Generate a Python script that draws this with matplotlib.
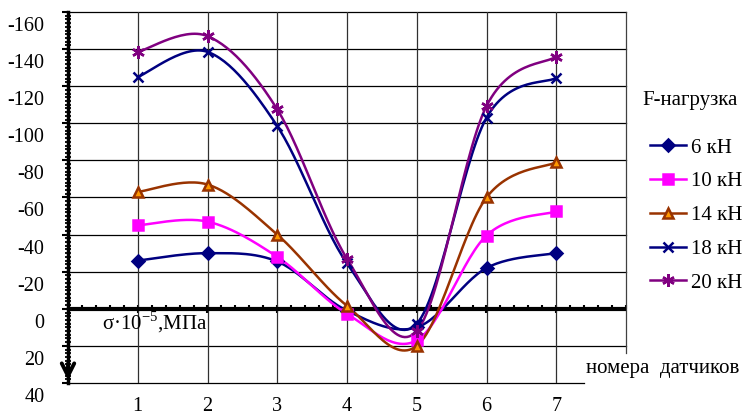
import numpy as np
import matplotlib
matplotlib.use("Agg")
import matplotlib.pyplot as plt
from matplotlib.transforms import ScaledTranslation
from matplotlib.ticker import MultipleLocator

plt.rcParams['font.family'] = ['Liberation Serif', 'DejaVu Serif']
plt.rcParams['mathtext.fontset'] = 'custom'
plt.rcParams['mathtext.rm'] = 'Liberation Serif'

sensors = [1, 2, 3, 4, 5, 6, 7]
s6 = [-26, -30, -25.5, 1, 10, -22, -30]
s10 = [-45, -47, -28, 2.7, 17, -39.5, -52.5]
s14 = [-63, -67, -40, -1.6, 20, -60, -79]
s18 = [-125, -138.5, -98.5, -24.5, 8, -103, -124.5]
s20 = [-138.5, -147, -107.5, -27, 12, -109.3, -136]
labels = ['6 кН', '10 кН', '14 кН', '18 кН', '20 кН']
yticks = list(range(-160, 41, 20))


def smooth(x, y, n=30):
    x = np.asarray(x, float); y = np.asarray(y, float)
    px = np.concatenate([[x[0]], x, [x[-1]]])
    py = np.concatenate([[y[0]], y, [y[-1]]])
    xs, ys = [], []
    t = np.linspace(0, 1, n)
    for i in range(1, len(px) - 2):
        p0, p1, p2, p3 = [np.array([px[j], py[j]]) for j in (i - 1, i, i + 1, i + 2)]
        c1 = p1 + (p2 - p0) / 6.0
        c2 = p2 - (p3 - p1) / 6.0
        pts = ((1 - t) ** 3)[:, None] * p1 + (3 * (1 - t) ** 2 * t)[:, None] * c1 \
            + (3 * (1 - t) * t ** 2)[:, None] * c2 + (t ** 3)[:, None] * p2
        xs.append(pts[:, 0]); ys.append(pts[:, 1])
    return np.concatenate(xs), np.concatenate(ys)


fig = plt.figure(figsize=(7.49, 4.18), dpi=100)
ax = fig.add_axes([68 / 749, 35 / 418, 558 / 749, 371 / 418])
ax.set_xlim(0, 8)
ax.set_ylim(40, -160)

# grid
for v in yticks:
    if v == 40:
        ax.axhline(v, xmin=0, xmax=7.4 / 8, color='black', lw=0.9, zorder=1, clip_on=False)
    elif v != 0:
        ax.axhline(v, color='black', lw=0.9, zorder=1, clip_on=False)
for xv in sensors:
    ax.axvline(xv, color='#303030', lw=0.9, zorder=1)
ax.axvline(8, ymin=(40 - 24) / 200, ymax=1, color='#404040', lw=0.9, zorder=1, clip_on=False)

for s in ['top', 'right', 'bottom']:
    ax.spines[s].set_visible(False)
ax.spines['left'].set_linewidth(2.5)

ax.set_yticks(yticks)
ax.set_yticklabels([str(v) for v in yticks], fontsize=14.5)
ax.yaxis.set_minor_locator(MultipleLocator(2))
ax.tick_params(axis='y', which='major', direction='out', length=4, width=1.5, pad=13)
ax.tick_params(axis='y', which='minor', direction='inout', length=4, width=1.3)
off = ScaledTranslation(0, -12 / 100, fig.dpi_scale_trans)
for lab in ax.get_yticklabels():
    lab.set_transform(lab.get_transform() + off)

ax.set_xticks(sensors)
ax.set_xticklabels([str(v) for v in sensors], fontsize=14.5)
ax.tick_params(axis='x', length=0, pad=10)

# zero line with ticks
ax.axhline(0, color='black', lw=3, zorder=2)
sec = ax.secondary_xaxis(0.2)
sec.spines['bottom'].set_visible(False)
sec.set_xticks(sensors)
sec.set_xticklabels([])
sec.xaxis.set_minor_locator(MultipleLocator(0.2))
sec.tick_params(which='major', direction='inout', length=6, width=1.5)
sec.tick_params(which='minor', direction='in', length=3, width=1.5)

# arrow at the bottom of the left axis
ax.annotate('', xy=(0, 40), xytext=(0, 28), xycoords='data',
            arrowprops=dict(arrowstyle='->,head_length=0.9,head_width=0.45', lw=2.8, color='black'),
            annotation_clip=False)

series = [s6, s10, s14, s18, s20]
colors = ['#000080', '#FF00FF', '#993300', '#000080', '#800080']
markers = ['D', 's', '^', 'x', (6, 2, 0)]
mfc = ['#000080', '#FF00FF', '#FF9900', '#000080', '#800080']
msize = [6, 7, 7, 7, 9]
handles = []
for vals, c, m, fc, ms, lab in zip(series, colors, markers, mfc, msize, labels):
    xs, ys = smooth(sensors, vals)
    ax.plot(xs, ys, color=c, lw=1.8, zorder=3)
    ax.plot(sensors, vals, linestyle='none', marker=m, color=c, mfc=fc, mec=c,
            ms=ms, mew=1.8, zorder=4)
    h, = ax.plot([], [], color=c, lw=1.8, marker=m, mfc=fc, mec=c, ms=ms, mew=1.8, label=lab)
    handles.append(h)

fig.text(642 / 749, 1 - 100 / 418, 'F-нагрузка', fontsize=15, ha='left', va='center')
fig.legend(handles=handles, loc='upper left', bbox_to_anchor=(650 / 749, 1 - 138 / 418),
           frameon=False, fontsize=15, handlelength=1.75, handletextpad=0.2,
           labelspacing=0.68, borderpad=0, borderaxespad=0)

ax.text(1.24, 7.5, 'σ·10$^{\\mathregular{-5}}$,МПа', fontsize=15, ha='center', va='center')
ax.text(7.43, 32.3, 'номера  датчиков', fontsize=15, ha='left', va='center', clip_on=False)

fig.savefig('out.png', dpi=100)
